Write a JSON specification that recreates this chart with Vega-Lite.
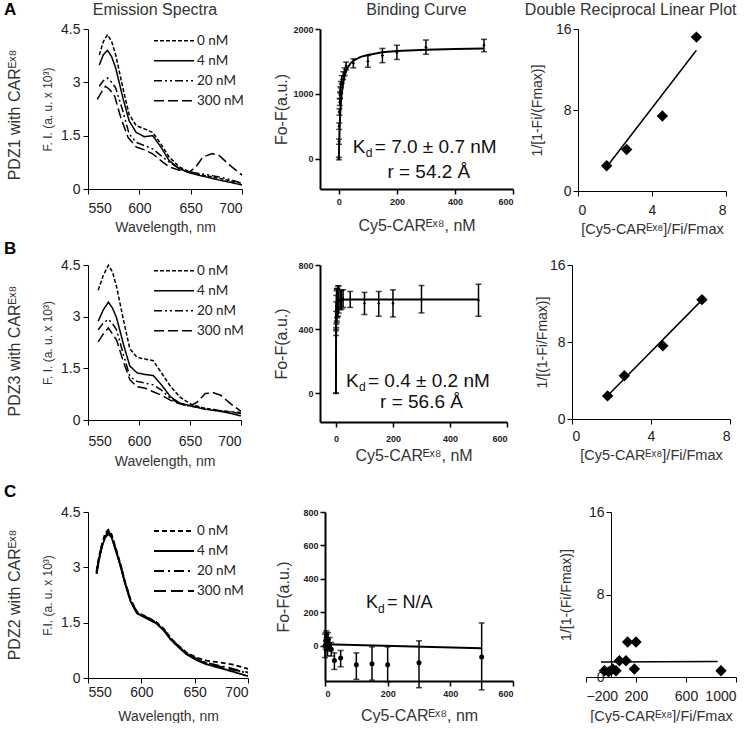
{
"$schema":"https://vega.github.io/schema/vega-lite/v6.json",
"padding":{"left":3,"top":1,"right":0,"bottom":0},
"spacing":4,
"resolve":{"scale":{"strokeDash":"independent"},"legend":{"strokeDash":"independent"}},
"config":{"view":{"stroke":null},"font":"Liberation Sans",
 "axis":{"grid":false,"domainColor":"black","tickColor":"black","labelColor":"#222","titleColor":"#333","titleFontWeight":"normal","labelFont":"Liberation Sans","titleFont":"Liberation Sans","tickSize":5},
 "title":{"font":"Liberation Sans"}},
"datasets":{
"emA":[
{"c":"0 nM","w":561,"v":3.77},{"c":"0 nM","w":565,"v":4.15},{"c":"0 nM","w":569,"v":4.34},{"c":"0 nM","w":573,"v":4.15},{"c":"0 nM","w":577,"v":3.77},{"c":"0 nM","w":584,"v":2.84},{"c":"0 nM","w":590,"v":2.1},{"c":"0 nM","w":597,"v":1.78},{"c":"0 nM","w":605,"v":1.69},{"c":"0 nM","w":613,"v":1.59},{"c":"0 nM","w":621,"v":1.27},{"c":"0 nM","w":629,"v":0.9},{"c":"0 nM","w":639,"v":0.62},{"c":"0 nM","w":649,"v":0.48},{"c":"0 nM","w":662,"v":0.39},{"c":"0 nM","w":678,"v":0.3},{"c":"0 nM","w":690,"v":0.22},{"c":"0 nM","w":700,"v":0.16},
{"c":"4 nM","w":561,"v":3.49},{"c":"4 nM","w":565,"v":3.78},{"c":"4 nM","w":569,"v":3.9},{"c":"4 nM","w":573,"v":3.72},{"c":"4 nM","w":577,"v":3.4},{"c":"4 nM","w":584,"v":2.56},{"c":"4 nM","w":590,"v":1.92},{"c":"4 nM","w":597,"v":1.59},{"c":"4 nM","w":605,"v":1.47},{"c":"4 nM","w":613,"v":1.5},{"c":"4 nM","w":621,"v":1.18},{"c":"4 nM","w":629,"v":0.8},{"c":"4 nM","w":639,"v":0.57},{"c":"4 nM","w":649,"v":0.45},{"c":"4 nM","w":662,"v":0.36},{"c":"4 nM","w":678,"v":0.25},{"c":"4 nM","w":690,"v":0.18},{"c":"4 nM","w":700,"v":0.11},
{"c":"20 nM","w":561,"v":2.89},{"c":"20 nM","w":565,"v":3.05},{"c":"20 nM","w":569,"v":3.12},{"c":"20 nM","w":573,"v":3.0},{"c":"20 nM","w":577,"v":2.84},{"c":"20 nM","w":584,"v":2.19},{"c":"20 nM","w":590,"v":1.55},{"c":"20 nM","w":597,"v":1.31},{"c":"20 nM","w":605,"v":1.22},{"c":"20 nM","w":613,"v":1.13},{"c":"20 nM","w":621,"v":0.94},{"c":"20 nM","w":629,"v":0.76},{"c":"20 nM","w":639,"v":0.57},{"c":"20 nM","w":649,"v":0.48},{"c":"20 nM","w":662,"v":0.42},{"c":"20 nM","w":678,"v":0.34},{"c":"20 nM","w":690,"v":0.25},{"c":"20 nM","w":700,"v":0.16},
{"c":"300 nM","w":559,"v":2.52},{"c":"300 nM","w":563,"v":2.72},{"c":"300 nM","w":567,"v":2.89},{"c":"300 nM","w":571,"v":2.8},{"c":"300 nM","w":576,"v":2.61},{"c":"300 nM","w":582,"v":2.0},{"c":"300 nM","w":589,"v":1.45},{"c":"300 nM","w":597,"v":1.18},{"c":"300 nM","w":605,"v":1.1},{"c":"300 nM","w":613,"v":0.99},{"c":"300 nM","w":621,"v":0.8},{"c":"300 nM","w":629,"v":0.62},{"c":"300 nM","w":639,"v":0.53},{"c":"300 nM","w":649,"v":0.48},{"c":"300 nM","w":655,"v":0.62},{"c":"300 nM","w":662,"v":0.9},{"c":"300 nM","w":671,"v":1.0},{"c":"300 nM","w":678,"v":0.94},{"c":"300 nM","w":688,"v":0.67},{"c":"300 nM","w":700,"v":0.39}
],
"emB":[
{"c":"0 nM","w":560,"v":3.77},{"c":"0 nM","w":565,"v":4.2},{"c":"0 nM","w":570,"v":4.49},{"c":"0 nM","w":574,"v":4.3},{"c":"0 nM","w":578,"v":3.87},{"c":"0 nM","w":585,"v":2.87},{"c":"0 nM","w":591,"v":2.07},{"c":"0 nM","w":598,"v":1.82},{"c":"0 nM","w":606,"v":1.77},{"c":"0 nM","w":614,"v":1.72},{"c":"0 nM","w":622,"v":1.37},{"c":"0 nM","w":631,"v":0.97},{"c":"0 nM","w":640,"v":0.67},{"c":"0 nM","w":650,"v":0.47},{"c":"0 nM","w":663,"v":0.35},{"c":"0 nM","w":680,"v":0.27},{"c":"0 nM","w":690,"v":0.24},{"c":"0 nM","w":700,"v":0.22},
{"c":"4 nM","w":560,"v":2.87},{"c":"4 nM","w":565,"v":3.2},{"c":"4 nM","w":570,"v":3.42},{"c":"4 nM","w":574,"v":3.25},{"c":"4 nM","w":578,"v":2.97},{"c":"4 nM","w":585,"v":2.17},{"c":"4 nM","w":591,"v":1.57},{"c":"4 nM","w":598,"v":1.37},{"c":"4 nM","w":606,"v":1.32},{"c":"4 nM","w":614,"v":1.29},{"c":"4 nM","w":622,"v":1.02},{"c":"4 nM","w":631,"v":0.67},{"c":"4 nM","w":640,"v":0.49},{"c":"4 nM","w":650,"v":0.42},{"c":"4 nM","w":663,"v":0.32},{"c":"4 nM","w":680,"v":0.25},{"c":"4 nM","w":690,"v":0.19},{"c":"4 nM","w":700,"v":0.12},
{"c":"20 nM","w":560,"v":2.62},{"c":"20 nM","w":565,"v":2.82},{"c":"20 nM","w":570,"v":2.92},{"c":"20 nM","w":574,"v":2.8},{"c":"20 nM","w":578,"v":2.62},{"c":"20 nM","w":585,"v":1.87},{"c":"20 nM","w":591,"v":1.27},{"c":"20 nM","w":598,"v":1.12},{"c":"20 nM","w":606,"v":1.07},{"c":"20 nM","w":614,"v":1.02},{"c":"20 nM","w":622,"v":0.87},{"c":"20 nM","w":631,"v":0.62},{"c":"20 nM","w":640,"v":0.47},{"c":"20 nM","w":650,"v":0.4},{"c":"20 nM","w":663,"v":0.35},{"c":"20 nM","w":680,"v":0.27},{"c":"20 nM","w":690,"v":0.23},{"c":"20 nM","w":700,"v":0.19},
{"c":"300 nM","w":560,"v":2.27},{"c":"300 nM","w":565,"v":2.5},{"c":"300 nM","w":570,"v":2.67},{"c":"300 nM","w":574,"v":2.5},{"c":"300 nM","w":578,"v":2.32},{"c":"300 nM","w":585,"v":1.67},{"c":"300 nM","w":591,"v":1.17},{"c":"300 nM","w":598,"v":0.97},{"c":"300 nM","w":606,"v":0.92},{"c":"300 nM","w":614,"v":0.82},{"c":"300 nM","w":622,"v":0.72},{"c":"300 nM","w":631,"v":0.57},{"c":"300 nM","w":640,"v":0.47},{"c":"300 nM","w":650,"v":0.4},{"c":"300 nM","w":657,"v":0.52},{"c":"300 nM","w":665,"v":0.77},{"c":"300 nM","w":673,"v":0.79},{"c":"300 nM","w":680,"v":0.72},{"c":"300 nM","w":690,"v":0.47},{"c":"300 nM","w":700,"v":0.25}
],
"emC":[
{"c":"0 nM","w":558,"v":2.9},{"c":"0 nM","w":560,"v":3.25},{"c":"0 nM","w":563,"v":3.62},{"c":"0 nM","w":566,"v":3.92},{"c":"0 nM","w":569,"v":4.02},{"c":"0 nM","w":572,"v":3.9},{"c":"0 nM","w":575,"v":3.62},{"c":"0 nM","w":580,"v":3.14},{"c":"0 nM","w":585,"v":2.58},{"c":"0 nM","w":590,"v":2.12},{"c":"0 nM","w":596,"v":1.79},{"c":"0 nM","w":602,"v":1.7},{"c":"0 nM","w":608,"v":1.61},{"c":"0 nM","w":614,"v":1.52},{"c":"0 nM","w":621,"v":1.33},{"c":"0 nM","w":627,"v":1.1},{"c":"0 nM","w":635,"v":0.87},{"c":"0 nM","w":642,"v":0.7},{"c":"0 nM","w":652,"v":0.55},{"c":"0 nM","w":661,"v":0.47},{"c":"0 nM","w":674,"v":0.42},{"c":"0 nM","w":686,"v":0.36},{"c":"0 nM","w":700,"v":0.25},
{"c":"4 nM","w":558,"v":2.82},{"c":"4 nM","w":560,"v":3.15},{"c":"4 nM","w":563,"v":3.55},{"c":"4 nM","w":566,"v":3.8},{"c":"4 nM","w":569,"v":3.9},{"c":"4 nM","w":572,"v":3.82},{"c":"4 nM","w":575,"v":3.55},{"c":"4 nM","w":580,"v":3.08},{"c":"4 nM","w":585,"v":2.53},{"c":"4 nM","w":590,"v":2.07},{"c":"4 nM","w":596,"v":1.75},{"c":"4 nM","w":602,"v":1.66},{"c":"4 nM","w":608,"v":1.57},{"c":"4 nM","w":614,"v":1.48},{"c":"4 nM","w":621,"v":1.29},{"c":"4 nM","w":627,"v":1.06},{"c":"4 nM","w":635,"v":0.83},{"c":"4 nM","w":642,"v":0.65},{"c":"4 nM","w":652,"v":0.48},{"c":"4 nM","w":661,"v":0.37},{"c":"4 nM","w":674,"v":0.27},{"c":"4 nM","w":686,"v":0.17},{"c":"4 nM","w":700,"v":0.05},
{"c":"20 nM","w":558,"v":2.86},{"c":"20 nM","w":560,"v":3.22},{"c":"20 nM","w":563,"v":3.6},{"c":"20 nM","w":566,"v":3.88},{"c":"20 nM","w":569,"v":3.98},{"c":"20 nM","w":572,"v":3.87},{"c":"20 nM","w":575,"v":3.6},{"c":"20 nM","w":580,"v":3.12},{"c":"20 nM","w":585,"v":2.57},{"c":"20 nM","w":590,"v":2.11},{"c":"20 nM","w":596,"v":1.78},{"c":"20 nM","w":602,"v":1.69},{"c":"20 nM","w":608,"v":1.6},{"c":"20 nM","w":614,"v":1.51},{"c":"20 nM","w":621,"v":1.32},{"c":"20 nM","w":627,"v":1.09},{"c":"20 nM","w":635,"v":0.86},{"c":"20 nM","w":642,"v":0.68},{"c":"20 nM","w":652,"v":0.52},{"c":"20 nM","w":661,"v":0.41},{"c":"20 nM","w":674,"v":0.33},{"c":"20 nM","w":686,"v":0.25},{"c":"20 nM","w":700,"v":0.12},
{"c":"300 nM","w":558,"v":2.84},{"c":"300 nM","w":560,"v":3.18},{"c":"300 nM","w":563,"v":3.57},{"c":"300 nM","w":566,"v":3.84},{"c":"300 nM","w":569,"v":3.93},{"c":"300 nM","w":572,"v":3.84},{"c":"300 nM","w":575,"v":3.57},{"c":"300 nM","w":580,"v":3.1},{"c":"300 nM","w":585,"v":2.55},{"c":"300 nM","w":590,"v":2.09},{"c":"300 nM","w":596,"v":1.76},{"c":"300 nM","w":602,"v":1.67},{"c":"300 nM","w":608,"v":1.58},{"c":"300 nM","w":614,"v":1.49},{"c":"300 nM","w":621,"v":1.3},{"c":"300 nM","w":627,"v":1.07},{"c":"300 nM","w":635,"v":0.84},{"c":"300 nM","w":642,"v":0.67},{"c":"300 nM","w":652,"v":0.5},{"c":"300 nM","w":661,"v":0.4},{"c":"300 nM","w":674,"v":0.31},{"c":"300 nM","w":686,"v":0.22},{"c":"300 nM","w":700,"v":0.15}
],
"binA":[
{"x":0,"y":0,"lo":-20,"hi":20},{"x":0.5,"y":260,"lo":220,"hi":300},{"x":1,"y":500,"lo":450,"hi":550},{"x":2,"y":720,"lo":670,"hi":770},{"x":3,"y":870,"lo":820,"hi":920},{"x":4,"y":980,"lo":930,"hi":1030},{"x":5,"y":1060,"lo":1010,"hi":1110},{"x":7,"y":1140,"lo":1090,"hi":1190},{"x":10,"y":1220,"lo":1160,"hi":1280},{"x":15,"y":1280,"lo":1220,"hi":1340},{"x":20,"y":1340,"lo":1280,"hi":1400},{"x":25,"y":1430,"lo":1370,"hi":1490},{"x":50,"y":1470,"lo":1400,"hi":1540},{"x":100,"y":1500,"lo":1410,"hi":1590},{"x":150,"y":1590,"lo":1480,"hi":1700},{"x":200,"y":1640,"lo":1530,"hi":1750},{"x":300,"y":1720,"lo":1610,"hi":1830},{"x":500,"y":1750,"lo":1650,"hi":1840}
],
"fitA":[
{"x":0,"y":0},{"x":1,"y":210},{"x":2,"y":380},{"x":3,"y":520},{"x":4,"y":630},{"x":5,"y":720},{"x":7,"y":860},{"x":10,"y":1010},{"x":15,"y":1170},{"x":20,"y":1280},{"x":25,"y":1350},{"x":30,"y":1400},{"x":40,"y":1470},{"x":50,"y":1510},{"x":75,"y":1570},{"x":100,"y":1600},{"x":150,"y":1640},{"x":200,"y":1660},{"x":300,"y":1680},{"x":400,"y":1690},{"x":500,"y":1700}
],
"binB":[
{"x":0,"y":0,"lo":0,"hi":0},{"x":0.3,"y":380,"lo":360,"hi":400},{"x":0.5,"y":450,"lo":390,"hi":510},{"x":1,"y":490,"lo":410,"hi":570},{"x":1.5,"y":520,"lo":430,"hi":610},{"x":2,"y":540,"lo":440,"hi":640},{"x":3,"y":550,"lo":450,"hi":650},{"x":4,"y":560,"lo":470,"hi":650},{"x":5,"y":565,"lo":475,"hi":655},{"x":7,"y":575,"lo":480,"hi":670},{"x":10,"y":585,"lo":500,"hi":670},{"x":15,"y":580,"lo":520,"hi":640},{"x":20,"y":585,"lo":525,"hi":645},{"x":25,"y":590,"lo":535,"hi":645},{"x":50,"y":585,"lo":535,"hi":635},{"x":100,"y":560,"lo":491,"hi":629},{"x":150,"y":560,"lo":480,"hi":635},{"x":200,"y":560,"lo":476,"hi":645},{"x":300,"y":585,"lo":501,"hi":672},{"x":500,"y":580,"lo":480,"hi":680}
],
"fitB":[
{"x":0,"y":0},{"x":0.1,"y":150},{"x":0.2,"y":260},{"x":0.4,"y":380},{"x":0.7,"y":450},{"x":1,"y":490},{"x":2,"y":535},{"x":3,"y":555},{"x":5,"y":570},{"x":10,"y":580},{"x":20,"y":583},{"x":50,"y":585},{"x":500,"y":585}
],
"binC":[
{"x":0,"y":0,"lo":-70,"hi":70},{"x":2,"y":30,"lo":-20,"hi":80},{"x":4,"y":50,"lo":10,"hi":90},{"x":6,"y":20,"lo":-30,"hi":70},{"x":8,"y":-10,"lo":-60,"hi":40},{"x":10,"y":40,"lo":0,"hi":80},{"x":15,"y":10,"lo":-30,"hi":50},{"x":20,"y":-20,"lo":-60,"hi":20},{"x":30,"y":-88,"lo":-141,"hi":-42},{"x":50,"y":-72,"lo":-125,"hi":-28},{"x":100,"y":-113,"lo":-200,"hi":-42},{"x":150,"y":-107,"lo":-205,"hi":-6},{"x":200,"y":-113,"lo":-215,"hi":-6},{"x":300,"y":-101,"lo":-250,"hi":30},{"x":500,"y":-66,"lo":-263,"hi":137}
],
"fitC":[{"x":0,"y":10},{"x":500,"y":-15}],
"drA":[{"x":1.55,"y":2.5},{"x":2.63,"y":4.1},{"x":4.56,"y":7.4},{"x":6.4,"y":15.2}],
"drAfit":[{"x":1.6,"y":2.5},{"x":6.4,"y":13.9}],
"drB":[{"x":1.8,"y":2.4},{"x":2.65,"y":4.5},{"x":4.6,"y":7.6},{"x":6.58,"y":12.4}],
"drBfit":[{"x":1.7,"y":2.2},{"x":6.6,"y":12.4}],
"drC":[{"x":-53,"y":0.6},{"x":-20,"y":0.5},{"x":13,"y":0.77},{"x":40,"y":0.6},{"x":67,"y":1.57},{"x":120,"y":1.57},{"x":133,"y":3.4},{"x":200,"y":3.4},{"x":187,"y":0.77},{"x":880,"y":0.6}],
"drCfit":[{"x":-80,"y":1.45},{"x":853,"y":1.5}]
},
"vconcat":[
{
 "spacing":28,
 "resolve":{"scale":{"strokeDash":"independent"},"legend":{"strokeDash":"independent"}},
 "hconcat":[
  {
   "title":{"text":"Emission Spectra","fontSize":16,"fontWeight":"normal","color":"#333","offset":-17,"frame":"group","dx":-10},
   "width":154,"height":160,
   "layer":[
    {"data":{"name":"emA"},"mark":{"type":"line","color":"black","strokeWidth":1.5},
     "encoding":{
      "x":{"field":"w","type":"quantitative","scale":{"domain":[550,700],"nice":false,"zero":false},"axis":{"values":[550,600,650,700],"title":"Wavelength, nm","labelFontSize":14,"titleFontSize":14,"labelPadding":7,"titlePadding":5}},
      "y":{"field":"v","type":"quantitative","scale":{"domain":[0,4.5],"nice":false},"axis":{"values":[0,1.5,3,4.5],"format":".1~f","title":"F. I. (a. u. x 10³)","labelFontSize":14,"titleFontSize":12,"labelPadding":3,"titlePadding":6}},
      "strokeDash":{"field":"c","type":"nominal","scale":{"domain":["0 nM","4 nM","20 nM","300 nM"],"range":[[4,2],[1,0],[8,3,2,3,2,3],[10,4]]},"legend":{"orient":"none","legendX":65,"legendY":2,"clipHeight":19.5,"rowPadding":0,"title":null,"symbolType":"stroke","symbolSize":1600,"symbolStrokeWidth":1.5,"symbolStrokeColor":"black","labelFontSize":13.5,"labelFont":"Lato","labelColor":"#222","labelOffset":2,"padding":0}}
     }},
    {"data":{"values":[{}]},"mark":{"type":"text","text":"A","align":"left","baseline":"middle","fontSize":17,"fontWeight":"bold","color":"black"},"encoding":{"x":{"datum":468.2},"y":{"datum":5.03}}},
    {"data":{"values":[{}]},"mark":{"type":"text","text":"PDZ1 with CARᴱˣ⁸","angle":270,"align":"center","baseline":"middle","fontSize":16,"color":"#333"},"encoding":{"x":{"datum":478.9},"y":{"datum":2.08}}}
   ]
  },
  {
   "spacing":10,
   "hconcat":[
    {
     "title":{"text":"Binding Curve","fontSize":16,"fontWeight":"normal","color":"#333","offset":7},
     "width":193,"height":160,
     "layer":[
      {"data":{"name":"fitA"},"mark":{"type":"line","color":"black","strokeWidth":2},
       "encoding":{"x":{"field":"x","type":"quantitative","scale":{"domain":[-65,600],"nice":false,"zero":false},"axis":{"values":[0,200,400,600],"format":"d","title":"Cy5-CARᴱˣ⁸, nM","labelFontSize":9,"labelFontWeight":"bold","titleFontSize":16,"domainWidth":2,"tickWidth":1.5,"labelPadding":3,"titlePadding":11}},
        "y":{"field":"y","type":"quantitative","scale":{"domain":[-470,2000],"nice":false,"zero":false},"axis":{"values":[0,500,1000,1500,2000],"format":"d","title":"Fo-F(a.u.)","labelFontSize":9,"labelFontWeight":"bold","titleFontSize":16,"domainWidth":2,"tickWidth":1.5,"titlePadding":3}}}},
      {"data":{"name":"binA"},"mark":{"type":"rule","color":"black","strokeWidth":1.5},"encoding":{"x":{"field":"x","type":"quantitative"},"y":{"field":"lo","type":"quantitative"},"y2":{"field":"hi"}}},
      {"data":{"name":"binA"},"mark":{"type":"tick","orient":"horizontal","color":"black","size":6,"thickness":1.5},"encoding":{"x":{"field":"x","type":"quantitative"},"y":{"field":"lo","type":"quantitative"}}},
      {"data":{"name":"binA"},"mark":{"type":"tick","orient":"horizontal","color":"black","size":6,"thickness":1.5},"encoding":{"x":{"field":"x","type":"quantitative"},"y":{"field":"hi","type":"quantitative"}}},
      {"data":{"name":"binA"},"mark":{"type":"point","shape":"diamond","filled":true,"color":"black","size":12,"opacity":1},"encoding":{"x":{"field":"x","type":"quantitative"},"y":{"field":"y","type":"quantitative"}}},
      {"data":{"values":[{}]},"mark":{"type":"text","text":"K","align":"left","baseline":"middle","fontSize":19,"color":"#111"},"encoding":{"x":{"datum":48},"y":{"datum":178}}},
      {"data":{"values":[{}]},"mark":{"type":"text","text":"d","align":"left","baseline":"middle","fontSize":12,"dx":13,"dy":6,"color":"#111"},"encoding":{"x":{"datum":48},"y":{"datum":178}}},
      {"data":{"values":[{}]},"mark":{"type":"text","text":"= 7.0 ± 0.7 nM","align":"left","baseline":"middle","fontSize":19,"dx":22,"color":"#111"},"encoding":{"x":{"datum":48},"y":{"datum":178}}},
      {"data":{"values":[{}]},"mark":{"type":"text","text":"r = 54.2 Å","align":"center","baseline":"middle","fontSize":19,"color":"#111"},"encoding":{"x":{"datum":310},"y":{"datum":-208}}}
     ]
    },
    {
     "title":{"text":"Double Reciprocal Linear Plot","fontSize":16,"fontWeight":"normal","color":"#333","offset":4,"anchor":"end","dx":10},
     "width":148,"height":162,
     "layer":[
      {"data":{"name":"drAfit"},"mark":{"type":"line","color":"black","strokeWidth":1.5},
       "encoding":{"x":{"field":"x","type":"quantitative","scale":{"domain":[0,8],"nice":false},"axis":{"values":[0,4,8],"title":"[Cy5-CARᴱˣ⁸]/Fi/Fmax","labelFontSize":14,"titleFontSize":14.5,"labelPadding":7,"titlePadding":5}},
        "y":{"field":"y","type":"quantitative","scale":{"domain":[0,16],"nice":false},"axis":{"values":[0,8,16],"title":"1/[1-Fi/(Fmax)]","labelFontSize":14,"titleFontSize":14,"titlePadding":11}}}},
      {"data":{"name":"drA"},"mark":{"type":"point","shape":"diamond","filled":true,"color":"black","size":130,"opacity":1},"encoding":{"x":{"field":"x","type":"quantitative"},"y":{"field":"y","type":"quantitative"}}}
     ]
    }
   ]
  }
 ]
},
{
 "spacing":15,
 "resolve":{"scale":{"strokeDash":"independent"},"legend":{"strokeDash":"independent"}},
 "vconcat":[
{
 "spacing":29,
 "resolve":{"scale":{"strokeDash":"independent"},"legend":{"strokeDash":"independent"}},
 "hconcat":[
  {
   "width":153,"height":155,
   "layer":[
    {"data":{"name":"emB"},"mark":{"type":"line","color":"black","strokeWidth":1.5},
     "encoding":{
      "x":{"field":"w","type":"quantitative","scale":{"domain":[550,700],"nice":false,"zero":false},"axis":{"values":[550,600,650,700],"title":"Wavelength, nm","labelFontSize":14,"titleFontSize":14,"labelPadding":9,"titlePadding":6}},
      "y":{"field":"v","type":"quantitative","scale":{"domain":[0,4.5],"nice":false},"axis":{"values":[0,1.5,3,4.5],"format":".1~f","title":"F. I. (a. u. x 10³)","labelFontSize":14,"titleFontSize":12,"labelPadding":3,"titlePadding":6}},
      "strokeDash":{"field":"c","type":"nominal","scale":{"domain":["0 nM","4 nM","20 nM","300 nM"],"range":[[4,2],[1,0],[8,3,2,3,2,3],[10,4]]},"legend":{"orient":"none","legendX":65,"legendY":-4,"clipHeight":19.5,"rowPadding":0,"title":null,"symbolType":"stroke","symbolSize":1600,"symbolStrokeWidth":1.5,"symbolStrokeColor":"black","labelFontSize":13.5,"labelFont":"Lato","labelColor":"#222","labelOffset":2,"padding":0}}
     }},
    {"data":{"values":[{}]},"mark":{"type":"text","text":"B","align":"left","baseline":"middle","fontSize":17,"fontWeight":"bold","color":"black"},"encoding":{"x":{"datum":467.6},"y":{"datum":4.96}}},
    {"data":{"values":[{}]},"mark":{"type":"text","text":"PDZ3 with CARᴱˣ⁸","angle":270,"align":"center","baseline":"middle","fontSize":16,"color":"#333"},"encoding":{"x":{"datum":478.4},"y":{"datum":2.0}}}
   ]
  },
  {
   "spacing":27,
   "hconcat":[
    {
     "width":187,"height":157,
     "layer":[
      {"data":{"name":"fitB"},"mark":{"type":"line","color":"black","strokeWidth":2},
       "encoding":{"x":{"field":"x","type":"quantitative","scale":{"domain":[-56,600],"nice":false,"zero":false},"axis":{"values":[0,200,400,600],"format":"d","title":"Cy5-CARᴱˣ⁸, nM","labelFontSize":9,"labelFontWeight":"bold","titleFontSize":16,"domainWidth":2,"tickWidth":1.5,"labelPadding":7,"titlePadding":4}},
        "y":{"field":"y","type":"quantitative","scale":{"domain":[-180,800],"nice":false,"zero":false},"axis":{"values":[0,200,400,600,800],"format":"d","title":"Fo-F(a.u.)","labelFontSize":9,"labelFontWeight":"bold","titleFontSize":16,"domainWidth":2,"tickWidth":1.5,"titlePadding":8}}}},
      {"data":{"name":"binB"},"mark":{"type":"rule","color":"black","strokeWidth":1.5},"encoding":{"x":{"field":"x","type":"quantitative"},"y":{"field":"lo","type":"quantitative"},"y2":{"field":"hi"}}},
      {"data":{"name":"binB"},"mark":{"type":"tick","orient":"horizontal","color":"black","size":6,"thickness":1.5},"encoding":{"x":{"field":"x","type":"quantitative"},"y":{"field":"lo","type":"quantitative"}}},
      {"data":{"name":"binB"},"mark":{"type":"tick","orient":"horizontal","color":"black","size":6,"thickness":1.5},"encoding":{"x":{"field":"x","type":"quantitative"},"y":{"field":"hi","type":"quantitative"}}},
      {"data":{"name":"binB"},"mark":{"type":"point","shape":"diamond","filled":true,"color":"black","size":10,"opacity":1},"encoding":{"x":{"field":"x","type":"quantitative"},"y":{"field":"y","type":"quantitative"}}},
      {"data":{"values":[{}]},"mark":{"type":"text","text":"K","align":"left","baseline":"middle","fontSize":19,"color":"#111"},"encoding":{"x":{"datum":35},"y":{"datum":76}}},
      {"data":{"values":[{}]},"mark":{"type":"text","text":"d","align":"left","baseline":"middle","fontSize":12,"dx":13,"dy":6,"color":"#111"},"encoding":{"x":{"datum":35},"y":{"datum":76}}},
      {"data":{"values":[{}]},"mark":{"type":"text","text":"= 0.4 ± 0.2 nM","align":"left","baseline":"middle","fontSize":19,"dx":22,"color":"#111"},"encoding":{"x":{"datum":35},"y":{"datum":76}}},
      {"data":{"values":[{}]},"mark":{"type":"text","text":"r = 56.6 Å","align":"center","baseline":"middle","fontSize":19,"color":"#111"},"encoding":{"x":{"datum":300},"y":{"datum":-55}}}
     ]
    },
    {
     "width":158,"height":154,
     "layer":[
      {"data":{"name":"drBfit"},"mark":{"type":"line","color":"black","strokeWidth":1.5},
       "encoding":{"x":{"field":"x","type":"quantitative","scale":{"domain":[0,8],"nice":false},"axis":{"values":[0,4,8],"title":"[Cy5-CARᴱˣ⁸]/Fi/Fmax","labelFontSize":14,"titleFontSize":14.5,"labelPadding":5,"titlePadding":5}},
        "y":{"field":"y","type":"quantitative","scale":{"domain":[0,16],"nice":false},"axis":{"values":[0,8,16],"title":"1/[(1-Fi/Fmax)]","labelFontSize":14,"titleFontSize":14,"titlePadding":0}}}},
      {"data":{"name":"drB"},"mark":{"type":"point","shape":"diamond","filled":true,"color":"black","size":130,"opacity":1},"encoding":{"x":{"field":"x","type":"quantitative"},"y":{"field":"y","type":"quantitative"}}}
     ]
    }
   ]
  }
 ]
},
{
 "spacing":23,
 "resolve":{"scale":{"strokeDash":"independent"},"legend":{"strokeDash":"independent"}},
 "hconcat":[
  {
   "width":160,"height":166,
   "layer":[
    {"data":{"name":"emC"},"mark":{"type":"line","color":"black","strokeWidth":1.8},
     "encoding":{
      "x":{"field":"w","type":"quantitative","scale":{"domain":[550,700],"nice":false,"zero":false},"axis":{"values":[550,600,650,700],"title":"Wavelength, nm","labelFontSize":14,"titleFontSize":14,"labelPadding":2,"titlePadding":10}},
      "y":{"field":"v","type":"quantitative","scale":{"domain":[0,4.5],"nice":false},"axis":{"values":[0,1.5,3,4.5],"format":".1~f","title":"F.I. (a. u. x 10³)","labelFontSize":14,"titleFontSize":12,"labelPadding":3,"titlePadding":6}},
      "strokeDash":{"field":"c","type":"nominal","scale":{"domain":["0 nM","4 nM","20 nM","300 nM"],"range":[[5,3],[1,0],[10,4,2,4],[12,5]]},"legend":{"orient":"none","legendX":65,"legendY":9,"clipHeight":20,"rowPadding":0,"title":null,"symbolType":"stroke","symbolSize":1600,"symbolStrokeWidth":2,"symbolStrokeColor":"black","labelFontSize":13.5,"labelFont":"Lato","labelColor":"#222","labelOffset":2,"padding":0}}
     }},
    {"data":{"values":[{}]},"mark":{"type":"text","text":"C","align":"left","baseline":"middle","fontSize":17,"fontWeight":"bold","color":"black"},"encoding":{"x":{"datum":471.25},"y":{"datum":5.04}}},
    {"data":{"values":[{}]},"mark":{"type":"text","text":"PDZ2 with CARᴱˣ⁸","angle":270,"align":"center","baseline":"middle","fontSize":16,"color":"#333"},"encoding":{"x":{"datum":481.6},"y":{"datum":2.25}}}
   ]
  },
  {
   "spacing":45,
   "hconcat":[
    {
     "width":188,"height":169,
     "layer":[
      {"data":{"name":"fitC"},"mark":{"type":"line","color":"black","strokeWidth":2},
       "encoding":{"x":{"field":"x","type":"quantitative","scale":{"domain":[0,600],"nice":false,"zero":false},"axis":{"values":[0,200,400,600],"format":"d","title":"Cy5-CARᴱˣ⁸, nm","labelFontSize":9,"labelFontWeight":"bold","titleFontSize":16,"domainWidth":2,"tickWidth":1.5,"labelPadding":3,"titlePadding":9}},
        "y":{"field":"y","type":"quantitative","scale":{"domain":[-210,800],"nice":false,"zero":false},"axis":{"values":[0,200,400,600,800],"format":"d","title":"Fo-F(a.u.)","labelFontSize":9,"labelFontWeight":"bold","titleFontSize":16,"domainWidth":2,"tickWidth":1.5,"titlePadding":11}}}},
      {"data":{"name":"binC"},"mark":{"type":"rule","color":"black","strokeWidth":1.5},"encoding":{"x":{"field":"x","type":"quantitative"},"y":{"field":"lo","type":"quantitative"},"y2":{"field":"hi"}}},
      {"data":{"name":"binC"},"mark":{"type":"tick","orient":"horizontal","color":"black","size":6,"thickness":1.5},"encoding":{"x":{"field":"x","type":"quantitative"},"y":{"field":"lo","type":"quantitative"}}},
      {"data":{"name":"binC"},"mark":{"type":"tick","orient":"horizontal","color":"black","size":6,"thickness":1.5},"encoding":{"x":{"field":"x","type":"quantitative"},"y":{"field":"hi","type":"quantitative"}}},
      {"data":{"name":"binC"},"mark":{"type":"point","shape":"circle","filled":true,"color":"black","size":25,"opacity":1},"encoding":{"x":{"field":"x","type":"quantitative"},"y":{"field":"y","type":"quantitative"}}},
      {"data":{"values":[{}]},"mark":{"type":"text","text":"K","align":"left","baseline":"middle","fontSize":18,"color":"#111"},"encoding":{"x":{"datum":131},"y":{"datum":256}}},
      {"data":{"values":[{}]},"mark":{"type":"text","text":"d","align":"left","baseline":"middle","fontSize":12,"dx":12,"dy":6,"color":"#111"},"encoding":{"x":{"datum":131},"y":{"datum":256}}},
      {"data":{"values":[{}]},"mark":{"type":"text","text":"= N/A","align":"left","baseline":"middle","fontSize":18,"dx":21,"color":"#111"},"encoding":{"x":{"datum":131},"y":{"datum":256}}}
     ]
    },
    {
     "width":150,"height":165,
     "layer":[
      {"data":{"name":"drCfit"},"mark":{"type":"line","color":"black","strokeWidth":1.5},
       "encoding":{"x":{"field":"x","type":"quantitative","scale":{"domain":[-200,1000],"nice":false,"zero":false},"axis":{"values":[-200,0,200,400,600,800,1000],"labelExpr":"datum.value==400||datum.value==800?'':datum.label","labelOverlap":false,"format":"d","title":"[Cy5-CARᴱˣ⁸]/Fi/Fmax","labelFontSize":14,"titleFontSize":14.5,"labelPadding":7,"titlePadding":6}},
        "y":{"field":"y","type":"quantitative","scale":{"domain":[0,16],"nice":false},"axis":{"values":[0,8,16],"offset":-25,"title":"1/[1-(Fi/Fmax)]","labelFontSize":14,"titleFontSize":14,"titlePadding":15}}}},
      {"data":{"name":"drC"},"mark":{"type":"point","shape":"diamond","filled":true,"color":"black","size":130,"opacity":1},"encoding":{"x":{"field":"x","type":"quantitative"},"y":{"field":"y","type":"quantitative"}}}
     ]
    }
   ]
  }
 ]
}
 ]
}
]
}
